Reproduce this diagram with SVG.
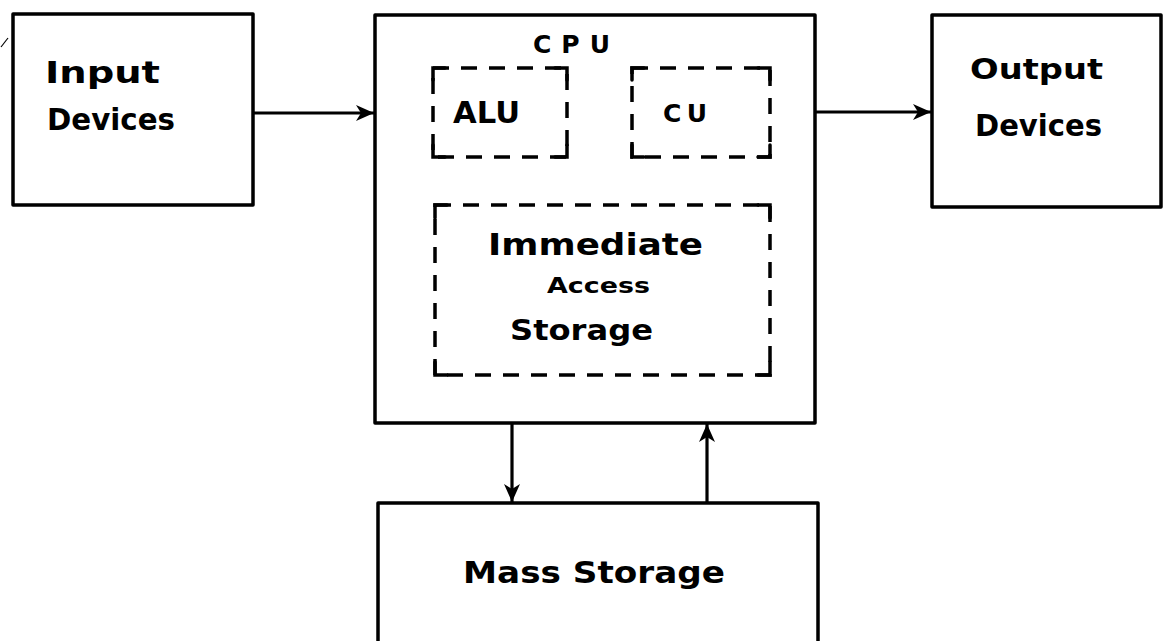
<svg xmlns="http://www.w3.org/2000/svg" width="1163" height="641" viewBox="0 0 1163 641">
<style>
.box{fill:none;stroke:#000;stroke-width:3.5;stroke-linejoin:round}
.dash{fill:none;stroke:#000;stroke-width:3.5;stroke-dasharray:16 12}
.corner{fill:none;stroke:#000;stroke-width:3.5;stroke-linecap:round}
.line{fill:none;stroke:#000;stroke-width:3.2}
.t{font-family:"DejaVu Sans","Liberation Sans",sans-serif;font-weight:bold;fill:#000}
</style>
<defs>
<marker id="ah" markerUnits="userSpaceOnUse" markerWidth="20" markerHeight="20" viewBox="0 0 20 20" refX="19" refY="10" orient="auto">
<path d="M1,2 L19,10 L1,18 L6,10 Z" fill="#000"/>
</marker>
</defs>
<rect width="1163" height="641" fill="#fff"/>
<path d="M1,47 L8,38" stroke="#000" stroke-width="1.2" fill="none"/>

<g id="input-devices">
<rect class="box" x="13" y="14" width="240" height="191"/>
<text class="t" x="45" y="83" font-size="30" textLength="115" lengthAdjust="spacingAndGlyphs">Input</text>
<text class="t" x="47" y="130" font-size="30" textLength="128" lengthAdjust="spacingAndGlyphs">Devices</text>
</g>

<g id="cpu">
<rect class="box" x="375" y="15" width="440" height="408"/>
<text class="t" x="533" y="53" font-size="25" textLength="77" lengthAdjust="spacing">CPU</text>
</g>

<g id="alu">
<rect class="dash" x="433" y="68" width="134" height="89"/>
<path class="corner" d="M433,80 V68 H445 M555,68 H567 V80 M567,145 V157 H555 M445,157 H433 V145"/>
<text class="t" x="453" y="123" font-size="30" textLength="67" lengthAdjust="spacingAndGlyphs">ALU</text>
</g>

<g id="cu">
<rect class="dash" x="632" y="68" width="138" height="89"/>
<path class="corner" d="M632,80 V68 H644 M758,68 H770 V80 M770,145 V157 H758 M644,157 H632 V145"/>
<text class="t" x="663" y="122" font-size="25" textLength="44" lengthAdjust="spacing">CU</text>
</g>

<g id="immediate-access-storage">
<rect class="dash" x="435" y="205" width="335" height="170"/>
<path class="corner" d="M435,218 V205 H447 M758,205 H770 V218 M770,362 V375 H758 M447,375 H435 V362"/>
<text class="t" x="488" y="255" font-size="30" textLength="215" lengthAdjust="spacingAndGlyphs">Immediate</text>
<text class="t" x="547" y="293" font-size="22" textLength="103" lengthAdjust="spacingAndGlyphs">Access</text>
<text class="t" x="510" y="340" font-size="28" textLength="143" lengthAdjust="spacingAndGlyphs">Storage</text>
</g>

<g id="output-devices">
<rect class="box" x="932" y="15" width="229" height="192"/>
<text class="t" x="970" y="79" font-size="29" textLength="133" lengthAdjust="spacingAndGlyphs">Output</text>
<text class="t" x="975" y="136" font-size="30" textLength="127" lengthAdjust="spacingAndGlyphs">Devices</text>
</g>

<g id="mass-storage">
<rect class="box" x="378" y="503" width="440" height="140"/>
<text class="t" x="463" y="583" font-size="31" textLength="262" lengthAdjust="spacingAndGlyphs">Mass Storage</text>
</g>

<g id="connectors">
<line class="line" x1="253" y1="113" x2="374" y2="113" marker-end="url(#ah)"/>
<line class="line" x1="815" y1="112" x2="931" y2="112" marker-end="url(#ah)"/>
<line class="line" x1="512" y1="423" x2="512" y2="502" marker-end="url(#ah)"/>
<line class="line" x1="707" y1="503" x2="707" y2="424" marker-end="url(#ah)"/>
</g>
</svg>
